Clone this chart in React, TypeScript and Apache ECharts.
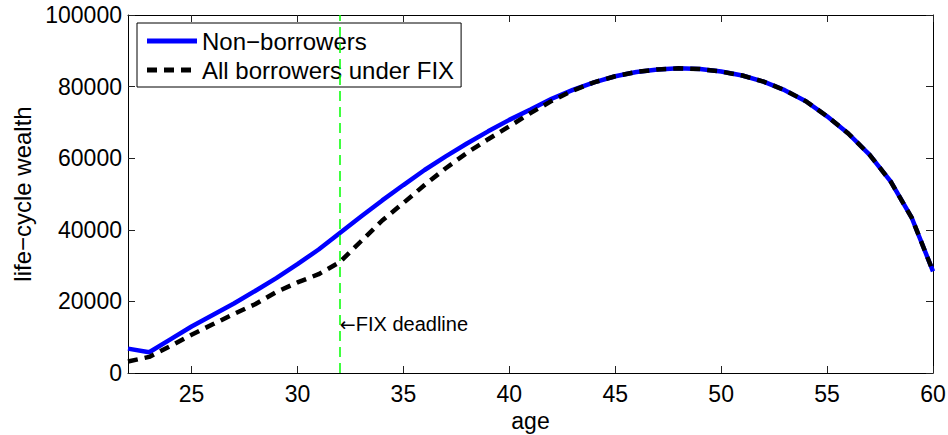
import React, { useEffect, useRef } from "react";
import * as echarts from "echarts";

// Age grid (years) and life-cycle wealth for the two groups
const ages = [
  22, 23, 24, 25, 26, 27, 28, 29, 30, 31, 32, 33, 34, 35, 36, 37, 38, 39, 40, 41,
  42, 43, 44, 45, 46, 47, 48, 49, 50, 51, 52, 53, 54, 55, 56, 57, 58, 59, 60,
];

const nonBorrowers = [
  6800, 5800, 9400, 13000, 16200, 19400, 22900, 26500, 30400, 34500, 39100, 43700,
  48200, 52500, 56700, 60500, 64100, 67500, 70700, 73600, 76600, 79100, 81200,
  82900, 84100, 84800, 85100, 84900, 84200, 83100, 81400, 79000, 75900, 71700,
  66900, 61000, 53500, 43300, 28400,
];

const borrowersFix = [
  3200, 4500, 7500, 10700, 13600, 16500, 19200, 22600, 25300, 27600, 31000, 36800,
  42600, 47500, 52500, 57200, 61500, 65300, 68900, 72600, 76000, 78900, 81200,
  82900, 84100, 84800, 85100, 84900, 84200, 83100, 81400, 79000, 75900, 71700,
  66900, 61000, 53500, 43300, 28400,
];

const xTicks = [25, 30, 35, 40, 45, 50, 55, 60];
const fixDeadlineAge = 32;
const deadlineLabelWealth = 13800;

const FONT = "'Liberation Sans', Arial, Helvetica, sans-serif";

// Legend keys: a solid bar and a dashed bar matching the series line styles
const SOLID_KEY = "path://M0,0h50v5h-50z";
const DASHED_KEY = "path://M0,0h10v5h-10zM17,0h10v5h-10zM34,0h10v5h-10zM50,0h0v5h0z";

export default function App() {
  const ref = useRef<HTMLDivElement>(null);

  useEffect(() => {
    if (!ref.current) return;
    const chart = echarts.init(ref.current, null, { renderer: "svg" });

    const boxAxisX = {
      type: "value" as const,
      min: 22,
      max: 60,
      axisLine: { show: true, onZero: false, lineStyle: { color: "#000", width: 1 } },
      axisTick: {
        show: true,
        inside: true,
        length: 7,
        customValues: xTicks,
        lineStyle: { color: "#222" },
      },
      splitLine: { show: false },
    };

    const boxAxisY = {
      type: "value" as const,
      min: 0,
      max: 100000,
      interval: 20000,
      axisLine: { show: true, onZero: false, lineStyle: { color: "#000", width: 1 } },
      axisTick: { show: true, inside: true, length: 7, lineStyle: { color: "#222" } },
      splitLine: { show: false },
    };

    chart.setOption({
      animation: false,
      backgroundColor: "#fff",
      textStyle: { fontFamily: FONT },
      grid: {
        left: 128,
        right: 15,
        top: 15,
        bottom: 62,
        containLabel: false,
        outerBoundsMode: "none",
      },
      legend: {
        orient: "vertical",
        left: 137,
        top: 23,
        itemWidth: 50,
        itemHeight: 5,
        itemGap: 5,
        symbolKeepAspect: false,
        padding: [6, 7, 5, 10],
        borderColor: "#000",
        borderWidth: 1,
        backgroundColor: "#fff",
        itemStyle: { borderWidth: 0 },
        textStyle: { fontSize: 24, color: "#000", fontFamily: FONT },
        data: [
          { name: "Non\u2212borrowers", icon: SOLID_KEY },
          { name: "All borrowers under FIX", icon: DASHED_KEY },
        ],
      },
      xAxis: [
        {
          ...boxAxisX,
          position: "bottom",
          name: "age",
          nameLocation: "middle",
          nameGap: 30,
          nameTextStyle: { fontSize: 23, color: "#000", fontFamily: FONT },
          axisLabel: {
            show: true,
            customValues: xTicks,
            margin: 9,
            fontSize: 23,
            color: "#000",
            fontFamily: FONT,
          },
        },
        {
          ...boxAxisX,
          position: "top",
          axisLabel: { show: false },
        },
      ],
      yAxis: [
        {
          ...boxAxisY,
          position: "left",
          name: "life\u2212cycle wealth",
          nameLocation: "middle",
          nameGap: 87,
          nameTextStyle: { fontSize: 24, color: "#000", fontFamily: FONT },
          axisLabel: {
            show: true,
            margin: 6,
            fontSize: 23,
            color: "#000",
            fontFamily: FONT,
            formatter: (v: number) => String(v),
          },
        },
        {
          ...boxAxisY,
          position: "right",
          axisLabel: { show: false },
        },
      ],
      series: [
        {
          name: "Non\u2212borrowers",
          type: "line",
          xAxisIndex: 0,
          yAxisIndex: 0,
          symbol: "none",
          data: ages.map((a, i) => [a, nonBorrowers[i]]),
          lineStyle: { color: "#0000ff", width: 4.5, cap: "butt" },
          itemStyle: { color: "#0000ff" },
          z: 2,
        },
        {
          name: "All borrowers under FIX",
          type: "line",
          xAxisIndex: 0,
          yAxisIndex: 0,
          symbol: "none",
          data: ages.map((a, i) => [a, borrowersFix[i]]),
          lineStyle: { color: "#000", width: 4.5, type: [10, 7], cap: "butt" },
          itemStyle: { color: "#000" },
          z: 3,
          markLine: {
            silent: true,
            symbol: ["none", "none"],
            label: { show: false },
            lineStyle: { color: "#00ff00", width: 1.5, type: [10, 6] },
            data: [{ xAxis: fixDeadlineAge }],
          },
          markPoint: {
            silent: true,
            symbol: "circle",
            symbolSize: 0,
            itemStyle: { color: "transparent" },
            label: {
              show: true,
              position: "right",
              distance: 0,
              formatter: "{a|\u2190}{t|FIX deadline}",
              rich: {
                a: { fontSize: 19, color: "#000", fontFamily: "'DejaVu Sans', sans-serif" },
                t: { fontSize: 20, color: "#000", fontFamily: FONT },
              },
            },
            data: [{ coord: [fixDeadlineAge, deadlineLabelWealth] }],
          },
        },
      ],
    });

    return () => chart.dispose();
  }, []);

  return (
    <div
      ref={ref}
      style={{ position: "fixed", left: 0, top: 0, width: 948, height: 435, background: "#fff" }}
    />
  );
}
